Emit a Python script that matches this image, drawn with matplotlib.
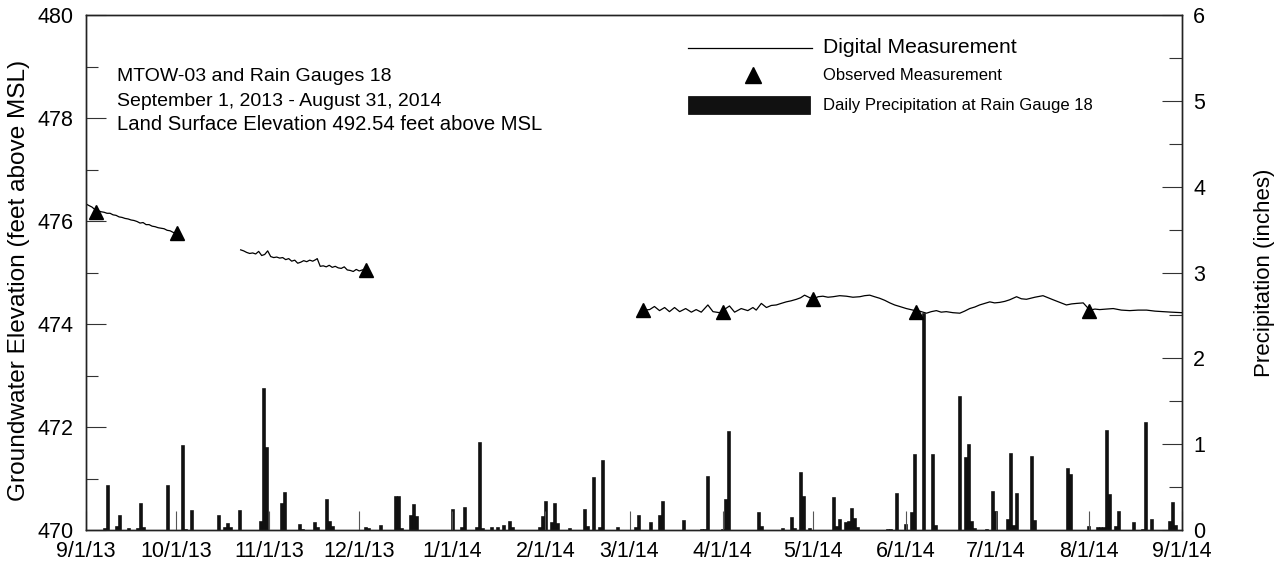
import numpy as np
import pandas as pd
import matplotlib
matplotlib.use("Agg")
import matplotlib.pyplot as plt
from matplotlib.ticker import MultipleLocator
from matplotlib.patches import Rectangle
from matplotlib.lines import Line2D

plt.rcParams['font.family'] = ['Liberation Sans', 'DejaVu Sans']

START = pd.Timestamp("2013-09-01")
END = pd.Timestamp("2014-09-01")

# Digital measurement (days since 9/1/13, feet above MSL), three logged stretches
seg1_days = [0, 1, 2, 3, 4, 5, 6, 7, 8, 9, 10, 11, 12, 13, 14, 15, 16, 17, 18, 19,
             20, 21, 22, 23, 24, 25, 26, 27, 28, 29, 30]
seg1_elev = [476.33, 476.30, 476.27, 476.22, 476.20, 476.18, 476.17, 476.15, 476.15, 476.12,
             476.11, 476.08, 476.07, 476.05, 476.04, 476.02, 476.01, 475.99, 475.96, 475.97,
             475.93, 475.93, 475.90, 475.89, 475.87, 475.86, 475.85, 475.82, 475.81, 475.78, 475.76]

seg2_days = [51.5, 52.5, 53.5, 54.5, 55.5, 56.5, 57.5, 58.5, 59.5, 60.5, 61.5, 62.5, 63.5,
             64.5, 65.5, 66.5, 67.5, 68.5, 69.5, 70.5, 71.5, 72.5, 73.5, 74.5, 75.5, 76.5,
             77, 78, 79, 80, 81, 82, 83, 84, 85, 86, 87, 88, 89, 90, 91, 92, 93]
seg2_elev = [475.44, 475.42, 475.39, 475.37, 475.38, 475.36, 475.41, 475.33, 475.35, 475.42,
             475.31, 475.29, 475.30, 475.28, 475.29, 475.25, 475.27, 475.22, 475.24, 475.18,
             475.20, 475.23, 475.21, 475.24, 475.22, 475.25, 475.27, 475.12, 475.13, 475.11,
             475.14, 475.10, 475.12, 475.09, 475.08, 475.11, 475.05, 475.04, 475.02, 475.06,
             475.03, 475.05, 475.06]

seg3_days = [185.5, 187.7, 189.3, 191.0, 192.7, 194.3, 196.0, 197.7, 199.7, 201.6, 203.2,
             204.9, 207.1, 208.8, 211.0, 214.3, 216.0, 218.2, 220.4, 222.1, 223.2, 224.9,
             226.6, 228.2, 229.9, 231.5, 233.2, 234.8, 236.6, 238.0, 239.3, 240.7, 242.1,
             243.8, 245.4, 247.1, 248.8, 251.0, 253.2, 255.4, 257.7, 259.3, 261.0, 262.6,
             264.3, 266.0, 267.7, 269.3, 271.0, 273.2, 275.4, 277.6, 279.9, 281.5, 283.2,
             284.8, 286.5, 288.7, 291.0, 292.6, 294.3, 296.0, 297.6, 299.3, 301.0, 302.6,
             304.3, 306.0, 307.6, 309.9, 311.5, 313.2, 316.0, 318.7, 320.4, 322.1, 324.3,
             326.5, 328.2, 329.9, 332.1, 334.3, 336.0, 337.6, 339.8, 342.1, 344.8, 347.6,
             350.4, 353.2, 356.0, 358.7, 361.5, 365.0]
seg3_elev = [474.27, 474.28, 474.34, 474.26, 474.32, 474.24, 474.32, 474.24, 474.30, 474.23,
             474.28, 474.23, 474.37, 474.24, 474.22, 474.35, 474.23, 474.30, 474.26, 474.32,
             474.27, 474.40, 474.32, 474.36, 474.37, 474.40, 474.43, 474.45, 474.48, 474.51,
             474.56, 474.52, 474.48, 474.53, 474.54, 474.52, 474.53, 474.55, 474.54, 474.52,
             474.53, 474.55, 474.56, 474.53, 474.50, 474.46, 474.41, 474.37, 474.34, 474.30,
             474.27, 474.25, 474.21, 474.24, 474.26, 474.23, 474.24, 474.22, 474.21, 474.25,
             474.30, 474.33, 474.37, 474.40, 474.43, 474.41, 474.42, 474.44, 474.47, 474.53,
             474.49, 474.48, 474.52, 474.55, 474.51, 474.47, 474.42, 474.37, 474.39, 474.40,
             474.41, 474.27, 474.29, 474.28, 474.29, 474.30, 474.27, 474.26, 474.27, 474.27,
             474.25, 474.24, 474.23, 474.22]

# Observed (manual) measurements
obs_days = [3.2, 30.4, 93.4, 185.4, 212.3, 242.1, 276.3, 334.1]
obs_elev = [476.18, 475.76, 475.05, 474.28, 474.24, 474.48, 474.24, 474.26]

# Daily precipitation at Rain Gauge 18 (days since 9/1/13, inches)
rain_days = [6, 7, 10, 11, 14, 17, 18, 19, 27, 32, 33, 35, 44, 46, 47, 48, 51, 58, 59, 60,
             65, 66, 71, 72, 76, 77, 80, 81, 82, 93, 94, 98, 103, 104, 105, 108, 109, 110,
             122, 125, 126, 130, 131, 132, 135, 137, 139, 141, 142, 151, 152, 153, 155, 156,
             157, 161, 166, 167, 169, 171, 172, 177, 183, 184, 188, 191, 192, 199, 205, 206,
             207, 212, 213, 214, 224, 225, 232, 235, 236, 238, 239, 241, 249, 250, 251, 253,
             254, 255, 256, 257, 267, 268, 270, 273, 275, 276, 279, 282, 283, 291, 293, 294,
             295, 296, 300, 302, 303, 307, 308, 309, 310, 315, 316, 327, 328, 334, 337, 338,
             339, 340, 341, 343, 344, 349, 352, 353, 355, 361, 362, 363]
rain_in = [0.02, 0.52, 0.05, 0.17, 0.02, 0.02, 0.31, 0.04, 0.52, 0.99, 0.01, 0.23, 0.18, 0.04,
           0.08, 0.03, 0.23, 0.10, 1.65, 0.97, 0.32, 0.44, 0.07, 0.01, 0.09, 0.03, 0.36, 0.11,
           0.05, 0.04, 0.02, 0.06, 0.40, 0.40, 0.02, 0.18, 0.30, 0.16, 0.25, 0.03, 0.27, 0.04,
           1.03, 0.02, 0.03, 0.03, 0.06, 0.11, 0.04, 0.03, 0.16, 0.34, 0.09, 0.31, 0.08, 0.02,
           0.25, 0.05, 0.62, 0.04, 0.82, 0.03, 0.03, 0.18, 0.09, 0.18, 0.34, 0.12, 0.01, 0.01,
           0.63, 0.01, 0.36, 1.15, 0.21, 0.05, 0.02, 0.15, 0.02, 0.68, 0.40, 0.02, 0.38, 0.05,
           0.13, 0.09, 0.11, 0.26, 0.14, 0.03, 0.01, 0.01, 0.43, 0.07, 0.21, 0.88, 2.53, 0.88,
           0.06, 1.56, 0.85, 1.00, 0.11, 0.02, 0.01, 0.45, 0.22, 0.13, 0.90, 0.06, 0.43, 0.86,
           0.12, 0.72, 0.65, 0.05, 0.03, 0.04, 0.03, 1.16, 0.42, 0.05, 0.22, 0.09, 0.01, 1.26,
           0.13, 0.10, 0.33, 0.06]


def to_dates(days):
    return START + pd.to_timedelta(np.asarray(days, dtype=float), unit="D")


fig = plt.figure(figsize=(12.82, 5.71), dpi=100)
fig.subplots_adjust(left=0.0671, right=0.922, bottom=0.0718, top=0.9737)
ax = fig.add_subplot(111)
ax2 = ax.twinx()
ax.set_zorder(2)
ax2.set_zorder(1)
ax.patch.set_visible(False)

# precipitation bars (right axis)
ax2.bar(to_dates(rain_days), rain_in, width=1.0, color="#111111",
        edgecolor="black", linewidth=0.4, align="center")
ax2.set_ylim(0, 6)
ax2.yaxis.set_major_locator(MultipleLocator(1))
ax2.yaxis.set_minor_locator(MultipleLocator(0.5))
ax2.tick_params(axis="y", which="major", direction="in", length=14.4, width=0.8,
                pad=8, labelsize=15.5, color="#333333")
ax2.tick_params(axis="y", which="minor", direction="in", length=9.4, width=0.8, color="#333333")
ax2.set_ylabel("Precipitation (inches)", fontsize=16)
ax2.yaxis.set_label_coords(1.066, 0.5)

# groundwater elevation (left axis)
for d, e in [(seg1_days, seg1_elev), (seg2_days, seg2_elev), (seg3_days, seg3_elev)]:
    ax.plot(to_dates(d), e, color="black", linewidth=0.9)
ax.plot(to_dates(obs_days), obs_elev, linestyle="none", marker="^", markersize=9.5,
        color="black")

ax.set_ylim(470, 480)
ax.yaxis.set_major_locator(MultipleLocator(2))
ax.yaxis.set_minor_locator(MultipleLocator(1))
ax.tick_params(axis="y", which="major", direction="in", length=14.4, width=0.8,
               pad=9, labelsize=15.5, color="#333333")
ax.tick_params(axis="y", which="minor", direction="in", length=8.6, width=0.8, color="#333333")
ax.set_ylabel("Groundwater Elevation (feet above MSL)", fontsize=17.6)
ax.yaxis.set_label_coords(-0.051, 0.485)

months = pd.date_range(START, END, freq="MS")
ax.set_xlim(START, END)
ax.set_xticks(months)
ax.set_xticklabels([f"{m.month}/{m.day}/{m.year % 100}" for m in months])
ax.tick_params(axis="x", direction="in", length=13.7, width=0.8, pad=8,
               labelsize=15.5, color="#555555")
ax2.set_xlim(START, END)

for a in (ax, ax2):
    for s in a.spines.values():
        s.set_linewidth(1.0)
        s.set_color("#222222")

# header text
ax.text(0.028, 0.880, "MTOW-03 and Rain Gauges 18", transform=ax.transAxes,
        fontsize=14, va="center", ha="left")
ax.text(0.028, 0.833, "September 1, 2013 - August 31, 2014", transform=ax.transAxes,
        fontsize=14, va="center", ha="left")
ax.text(0.028, 0.788, "Land Surface Elevation 492.54 feet above MSL", transform=ax.transAxes,
        fontsize=14.6, va="center", ha="left")

# legend drawn by hand
ax.add_line(Line2D([0.549, 0.662], [0.936, 0.936], transform=ax.transAxes,
                   color="black", linewidth=0.9))
ax.text(0.672, 0.936, "Digital Measurement", transform=ax.transAxes,
        fontsize=15.2, va="center", ha="left")
ax.plot([0.609], [0.883], transform=ax.transAxes, marker="^", markersize=12,
        color="black", linestyle="none")
ax.text(0.672, 0.883, "Observed Measurement", transform=ax.transAxes,
        fontsize=12, va="center", ha="left")
ax.add_patch(Rectangle((0.549, 0.808), 0.112, 0.035, transform=ax.transAxes,
                       facecolor="#111111", edgecolor="black", linewidth=0.5))
ax.text(0.672, 0.825, "Daily Precipitation at Rain Gauge 18", transform=ax.transAxes,
        fontsize=12, va="center", ha="left")

fig.savefig("out.png", dpi=100)
